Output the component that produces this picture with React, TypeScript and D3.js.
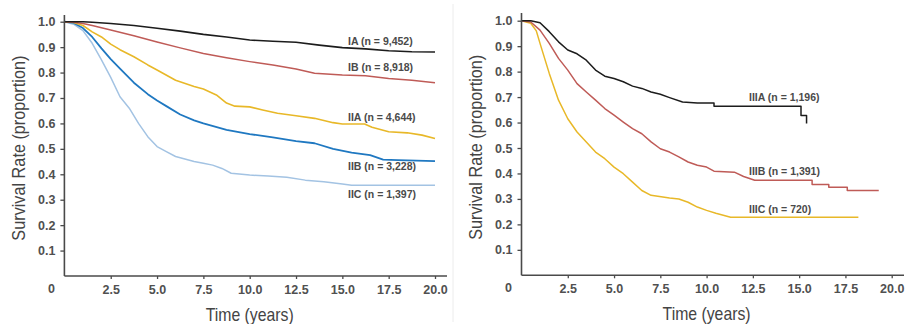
import React, { useEffect, useRef } from "react";
import * as d3 from "d3";

// x tick values (years) and y tick values (proportion)
const xTicks = [2.5, 5, 7.5, 10, 12.5, 15, 17.5, 20];
const yTicks = [0.1, 0.2, 0.3, 0.4, 0.5, 0.6, 0.7, 0.8, 0.9, 1.0];

// ---- left panel: stage I / II ----
const iaT = [0, 1, 1.5, 2.5, 3.75, 5, 6.25, 7.5, 8.75, 10, 11.25, 12.5, 13.75, 15, 16.25, 17.5, 18.75, 20];
const iaS = [1, 1, 0.998, 0.993, 0.985, 0.974, 0.963, 0.95, 0.94, 0.928, 0.923, 0.919, 0.908, 0.898, 0.893, 0.886, 0.882, 0.881];

const ibT = [0, 0.5, 1, 1.5, 2.5, 3.75, 5, 6.25, 7.5, 8.75, 10, 11.25, 12.5, 13.5, 15, 16.25, 17.5, 18.75, 20];
const ibS = [1, 0.998, 0.993, 0.985, 0.967, 0.945, 0.92, 0.897, 0.875, 0.858, 0.843, 0.83, 0.814, 0.797, 0.79, 0.787, 0.777, 0.77, 0.76];

const iiaT = [0, 0.5, 1, 1.5, 2, 2.5, 3, 3.75, 4.5, 5, 6, 7, 7.5, 8.2, 8.75, 9.2, 10, 10.7, 11.5, 12.5, 13.5, 14.5, 15, 16.2, 16.6, 17.5, 18.5, 19.3, 20];
const iiaS = [1, 0.997, 0.985, 0.96, 0.94, 0.912, 0.89, 0.862, 0.83, 0.81, 0.77, 0.745, 0.735, 0.712, 0.68, 0.668, 0.665, 0.653, 0.64, 0.63, 0.62, 0.603, 0.598, 0.598, 0.585, 0.567, 0.563, 0.554, 0.541];

const iibT = [0, 0.5, 1, 1.5, 2, 2.5, 3, 3.75, 4.5, 5, 5.5, 6.25, 7, 7.5, 8.75, 10, 11.25, 12.5, 13.5, 14.5, 15.5, 16.5, 17.2, 18, 20];
const iibS = [1, 0.995, 0.975, 0.94, 0.895, 0.853, 0.815, 0.76, 0.715, 0.69, 0.668, 0.635, 0.612, 0.6, 0.575, 0.558, 0.545, 0.53, 0.522, 0.5, 0.485, 0.475, 0.458, 0.456, 0.452];

const iicT = [0, 0.5, 1, 1.5, 2, 2.5, 3, 3.5, 4, 4.5, 5, 5.5, 6, 6.5, 7, 7.5, 8, 8.5, 9, 10, 11, 12, 13, 14, 15, 15.5, 20];
const iicS = [1, 0.99, 0.965, 0.915, 0.85, 0.781, 0.705, 0.66, 0.6, 0.548, 0.509, 0.489, 0.47, 0.46, 0.45, 0.443, 0.436, 0.423, 0.404, 0.397, 0.393, 0.388, 0.377, 0.371, 0.362, 0.357, 0.357];

// ---- right panel: stage III ----
const iiiaT = [0, 0.5, 1, 1.5, 2, 2.5, 3, 3.5, 4, 4.5, 5, 5.5, 6, 6.5, 7, 7.5, 8, 8.7, 9.5, 10.4, 10.4, 15.1, 15.1, 15.4, 15.4];
const iiiaS = [1, 1, 0.992, 0.957, 0.917, 0.885, 0.87, 0.845, 0.806, 0.782, 0.773, 0.76, 0.743, 0.734, 0.72, 0.711, 0.698, 0.681, 0.677, 0.677, 0.664, 0.664, 0.628, 0.628, 0.596];

const iiibT = [0, 0.5, 1, 1.5, 2, 2.5, 3, 3.5, 4, 4.5, 5, 5.5, 6, 6.5, 7, 7.5, 8, 8.5, 9, 9.5, 10, 10.4, 11.5, 12, 12.6, 15.7, 15.7, 16.6, 16.6, 17.6, 17.6, 19.3];
const iiibS = [1, 0.995, 0.963, 0.911, 0.852, 0.806, 0.753, 0.72, 0.688, 0.655, 0.629, 0.602, 0.576, 0.556, 0.524, 0.497, 0.484, 0.465, 0.445, 0.432, 0.425, 0.409, 0.405, 0.388, 0.373, 0.373, 0.357, 0.357, 0.346, 0.346, 0.333, 0.333];

const iiicT = [0, 0.5, 0.8, 1, 1.5, 2, 2.5, 3, 3.5, 4, 4.5, 5, 5.5, 6, 6.5, 7, 8, 8.5, 9, 9.5, 10, 10.5, 11.3, 18.2];
const iiicS = [1, 0.99, 0.96, 0.911, 0.793, 0.688, 0.615, 0.563, 0.524, 0.484, 0.458, 0.425, 0.399, 0.366, 0.333, 0.314, 0.304, 0.3, 0.287, 0.268, 0.255, 0.244, 0.228, 0.228];

const leftNames = ["IA (n = 9,452)", "IB (n = 8,918)", "IIA (n = 4,644)", "IIB (n = 3,228)", "IIC (n = 1,397)"];
const rightNames = ["IIIA (n = 1,196)", "IIIB (n = 1,391)", "IIIC (n = 720)"];

const BLACK = "#1c1c1c";
const RED = "#bf5b57";
const YELLOW = "#e8b828";
const BLUE = "#1f78c1";
const LIGHTBLUE = "#a3c3e3";

const FONT = "'Liberation Sans', Arial, sans-serif";

type Series = { t: number[]; s: number[]; color: string; width: number };
type Lbl = { text: string; x: number; y: number };

function drawPanel(
  g: d3.Selection<SVGGElement, unknown, null, undefined>,
  opts: {
    x0: number; x20: number; y0: number; y1: number; axisRight: number; axisTop: number;
    series: Series[]; labels: Lbl[]; titleX: number;
  }
) {
  const x = d3.scaleLinear().domain([0, 20]).range([opts.x0, opts.x20]);
  const y = d3.scaleLinear().domain([0, 1]).range([opts.y0, opts.y1]);

  // curves
  opts.series.forEach((sr) => {
    const pts = sr.t.map((t, i) => [t, sr.s[i]] as [number, number]);
    const line = d3
      .line<[number, number]>()
      .x((d) => x(d[0]))
      .y((d) => y(d[1]))
      .curve(d3.curveLinear);
    g.append("path")
      .attr("d", line(pts))
      .attr("fill", "none")
      .attr("stroke", sr.color)
      .attr("stroke-width", sr.width)
      .attr("stroke-linejoin", "round");
  });

  const axisColor = "#4a4a4a";

  // y axis
  const yAxis = g
    .append("g")
    .attr("transform", `translate(${opts.x0},0)`)
    .call(d3.axisLeft(y).tickValues(yTicks).tickFormat(d3.format(".1f")).tickSize(4).tickPadding(5));
  yAxis.select(".domain").remove();
  g.append("line")
    .attr("x1", opts.x0).attr("x2", opts.x0)
    .attr("y1", opts.axisTop).attr("y2", opts.y0)
    .attr("stroke", axisColor).attr("stroke-width", 1.6);

  // x axis
  const xAxis = g
    .append("g")
    .attr("transform", `translate(0,${opts.y0})`)
    .call(d3.axisBottom(x).tickValues(xTicks).tickFormat(d3.format(".1f")).tickSize(3).tickPadding(6));
  xAxis.select(".domain").remove();
  g.append("line")
    .attr("x1", opts.x0).attr("x2", opts.axisRight)
    .attr("y1", opts.y0).attr("y2", opts.y0)
    .attr("stroke", axisColor).attr("stroke-width", 1.6);

  [yAxis, xAxis].forEach((ax) => {
    ax.selectAll(".tick line").attr("stroke", axisColor).attr("stroke-width", 1.3);
    ax.selectAll(".tick text")
      .attr("fill", "#505050")
      .attr("font-family", FONT)
      .attr("font-weight", "bold")
      .attr("font-size", 12.5);
  });

  // origin "0"
  g.append("text")
    .attr("x", opts.x0 - 13)
    .attr("y", opts.y0 + 17)
    .attr("text-anchor", "middle")
    .attr("fill", "#505050")
    .attr("font-family", FONT)
    .attr("font-weight", "bold")
    .attr("font-size", 12.5)
    .text("0");

  // series labels
  opts.labels.forEach((l) => {
    g.append("text")
      .attr("x", l.x)
      .attr("y", l.y)
      .attr("dy", "0.35em")
      .attr("fill", "#4a4a4a")
      .attr("font-family", FONT)
      .attr("font-weight", "bold")
      .attr("font-size", 10.5)
      .text(l.text);
  });

  // axis titles (condensed look via textLength)
  g.append("text")
    .attr("transform", `translate(${opts.titleX},${(y(1) + y(0.1)) / 2 + 12}) rotate(-90)`)
    .attr("text-anchor", "middle")
    .attr("dy", "0.35em")
    .attr("fill", "#444")
    .attr("font-family", FONT)
    .attr("font-size", 19)
    .attr("textLength", 185)
    .attr("lengthAdjust", "spacingAndGlyphs")
    .text("Survival Rate (proportion)");

  g.append("text")
    .attr("x", x(10))
    .attr("y", opts.y0 + 45)
    .attr("text-anchor", "middle")
    .attr("fill", "#444")
    .attr("font-family", FONT)
    .attr("font-size", 19)
    .attr("textLength", 88)
    .attr("lengthAdjust", "spacingAndGlyphs")
    .text("Time (years)");
}

export default function App() {
  const ref = useRef<SVGSVGElement>(null);

  useEffect(() => {
    const svg = d3.select(ref.current);
    svg.selectAll("*").remove();

    svg.append("rect").attr("width", 906).attr("height", 324).attr("fill", "#fff");
    // faint panel frame
    svg.append("line").attr("x1", 453).attr("x2", 453).attr("y1", 4).attr("y2", 322)
      .attr("stroke", "#ececec").attr("stroke-width", 1);

    const left = svg.append("g");
    drawPanel(left, {
      x0: 64.4, x20: 435, y0: 276, y1: 21.7, axisRight: 447, axisTop: 15,
      titleX: 18,
      series: [
        { t: iicT, s: iicS, color: LIGHTBLUE, width: 1.5 },
        { t: iibT, s: iibS, color: BLUE, width: 1.8 },
        { t: iiaT, s: iiaS, color: YELLOW, width: 1.6 },
        { t: ibT, s: ibS, color: RED, width: 1.5 },
        { t: iaT, s: iaS, color: BLACK, width: 1.6 },
      ],
      labels: [
        { text: leftNames[0], x: 348, y: 41 },
        { text: leftNames[1], x: 348, y: 67 },
        { text: leftNames[2], x: 348, y: 117 },
        { text: leftNames[3], x: 348, y: 166 },
        { text: leftNames[4], x: 348, y: 194 },
      ],
    });

    const right = svg.append("g");
    drawPanel(right, {
      x0: 521.5, x20: 891.7, y0: 275.3, y1: 20.7, axisRight: 904, axisTop: 13,
      titleX: 475,
      series: [
        { t: iiicT, s: iiicS, color: YELLOW, width: 1.5 },
        { t: iiibT, s: iiibS, color: RED, width: 1.5 },
        { t: iiiaT, s: iiiaS, color: BLACK, width: 1.5 },
      ],
      labels: [
        { text: rightNames[0], x: 749, y: 97 },
        { text: rightNames[1], x: 749, y: 171 },
        { text: rightNames[2], x: 749, y: 209 },
      ],
    });
  }, []);

  return (
    <svg
      ref={ref}
      width={906}
      height={324}
      style={{ position: "absolute", left: 0, top: 0, display: "block" }}
    />
  );
}
